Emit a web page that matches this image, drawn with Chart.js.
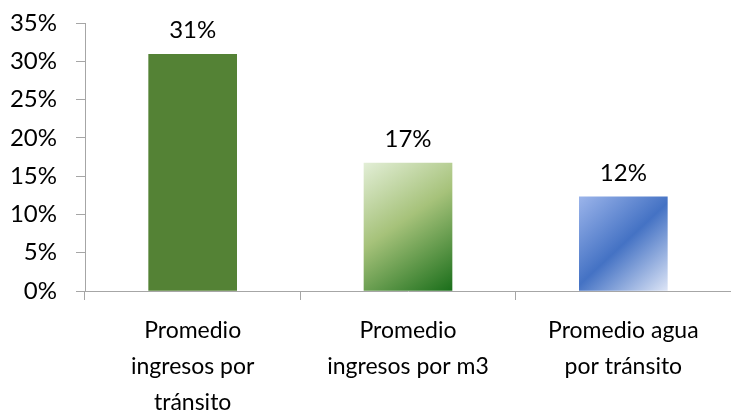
<!DOCTYPE html>
<html>
<head>
<meta charset="utf-8">
<script src="https://cdn.jsdelivr.net/npm/chart.js@4"></script>
<style>
  html, body { margin: 0; padding: 0; background: #fff; }
  #wrap { width: 731px; height: 410px; }
</style>
</head>
<body>
<div id="wrap"><canvas id="grafico"></canvas></div>
<script>
const categorias = [
    ['Promedio', 'ingresos por', 'tránsito'],
    ['Promedio', 'ingresos por m3'],
    ['Promedio agua', 'por tránsito']
];
const valores = [30.9, 16.7, 12.3];
const etiquetas = ['31%', '17%', '12%'];

const fuente = 'Lato, "Open Sans", sans-serif';
const anchoBarra = 88;

function colorBarra(context) {
    const chart = context.chart;
    const i = context.dataIndex;
    if (i === 0) return '#548235';
    const sx = chart.scales.x, sy = chart.scales.y;
    const plano = i === 1 ? '#a6c27a' : '#4472c4';
    if (!sx || !sy || !chart.chartArea) return plano;
    const cx = sx.getPixelForValue(i);
    const y0 = sy.getPixelForValue(valores[i]);
    const y1 = sy.getPixelForValue(0);
    if (![cx, y0, y1].every(isFinite)) return plano;
    const g = chart.ctx.createLinearGradient(cx - anchoBarra / 2, y0, cx + anchoBarra / 2, y1);
    if (i === 1) {
        g.addColorStop(0, '#e2eed6');
        g.addColorStop(0.45, '#a6c27a');
        g.addColorStop(1, '#1a6e1a');
    } else {
        g.addColorStop(0, '#9bb4ea');
        g.addColorStop(0.5, '#4472c4');
        g.addColorStop(1, '#dde5f6');
    }
    return g;
}

const etiquetasPlugin = {
    id: 'etiquetas',
    afterDatasetsDraw(chart) {
        const ctx = chart.ctx;
        const meta = chart.getDatasetMeta(0);
        ctx.save();
        ctx.fillStyle = '#000';
        ctx.font = '24px ' + fuente;
        ctx.textAlign = 'center';
        ctx.textBaseline = 'bottom';
        meta.data.forEach(function (bar, i) {
            ctx.fillText(etiquetas[i], bar.x, bar.y - 12);
        });
        ctx.restore();
    }
};

const ctx = document.getElementById('grafico').getContext('2d');
const grafico = new Chart(ctx, {
    type: 'bar',
    data: {
        labels: categorias,
        datasets: [{
            label: 'Valor',
            data: valores,
            backgroundColor: colorBarra,
            barThickness: anchoBarra
        }]
    },
    options: {
        responsive: true,
        maintainAspectRatio: false,
        animation: false,
        layout: {
            padding: { top: 23, right: 0, left: 0, bottom: 0 }
        },
        plugins: {
            legend: { display: false },
            tooltip: { enabled: false }
        },
        scales: {
            x: {
                grid: {
                    drawOnChartArea: false,
                    offset: true,
                    color: '#a6a6a6',
                    tickLength: 9
                },
                border: { color: '#a6a6a6' },
                ticks: {
                    color: '#000',
                    font: { family: fuente, size: 23, lineHeight: 1.58 },
                    maxRotation: 0,
                    padding: 12
                },
                afterFit: function (scale) {
                    scale.height = 119;
                    scale.paddingLeft = 0;
                    scale.paddingRight = 0;
                }
            },
            y: {
                min: 0,
                max: 35,
                grid: {
                    drawOnChartArea: false,
                    color: '#a6a6a6',
                    tickLength: 9
                },
                border: { color: '#a6a6a6' },
                ticks: {
                    stepSize: 5,
                    color: '#000',
                    font: { family: fuente, size: 24 },
                    padding: 19,
                    callback: function (v) { return v + '%'; }
                },
                afterFit: function (scale) {
                    scale.width = 85;
                    scale.paddingTop = 0;
                    scale.paddingBottom = 0;
                }
            }
        }
    },
    plugins: [etiquetasPlugin]
});
</script>
</body>
</html>
